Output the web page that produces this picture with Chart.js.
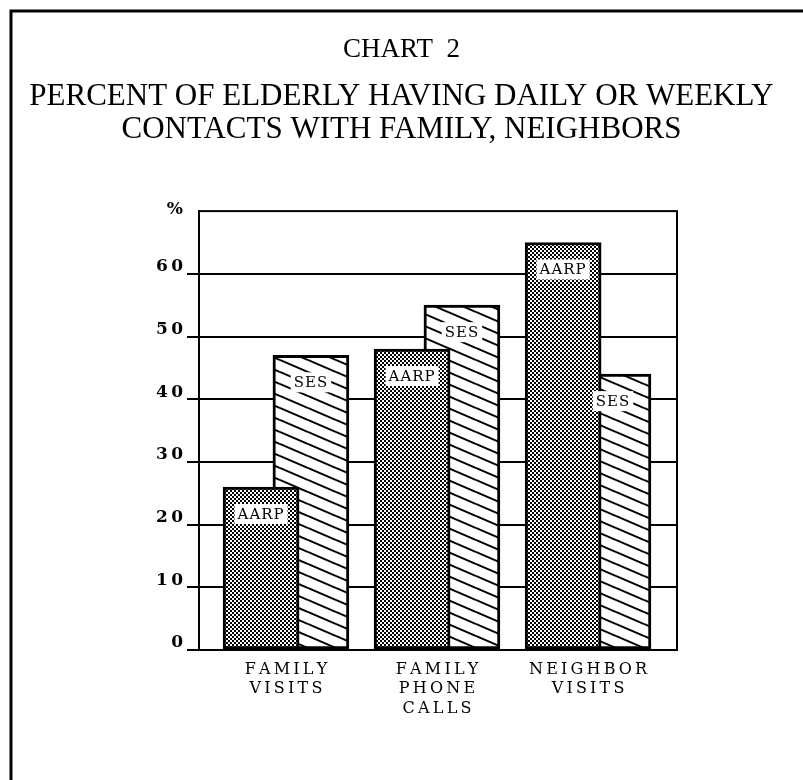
<!DOCTYPE html>
<html>
<head>
<meta charset="utf-8">
<title>Chart 2</title>
<script src="https://cdn.jsdelivr.net/npm/chart.js@4.4.0/dist/chart.umd.min.js"></script>
<style>
  html, body { margin: 0; padding: 0; background: #fff; }
  #chart { display: block; }
</style>
</head>
<body>
<canvas id="chart" width="803" height="780"></canvas>
<script>
// Chart data
const categories = [['FAMILY', 'VISITS'], ['FAMILY', 'PHONE', 'CALLS'], ['NEIGHBOR', 'VISITS']];
const seriesNames = ['AARP', 'SES'];
const aarpValues = [26, 48, 65];
const sesValues = [47, 55, 44];
const yTicks = [0, 10, 20, 30, 40, 50, 60];
const yMax = 70;

// x range and how far each bar sits from its category centre (in category units)
const xMin = -0.576, xMax = 2.589;
const barShift = 0.165;

const serif = "'DejaVu Serif', serif";

// the original uses letter-spaced type
function spaced(s) {
    return s.split('').join('\u2009');
}

// Fill patterns
function dotPattern() {
    const c = document.createElement('canvas');
    c.width = 4; c.height = 4;
    const g = c.getContext('2d');
    g.fillStyle = '#fff';
    g.fillRect(0, 0, 4, 4);
    g.fillStyle = '#000';
    g.fillRect(0, 0, 2, 2);
    g.fillRect(2, 2, 2, 2);
    return g.createPattern(c, 'repeat');
}

function hatchPattern() {
    const w = 28, h = 12;
    const c = document.createElement('canvas');
    c.width = w; c.height = h;
    const g = c.getContext('2d');
    g.fillStyle = '#fff';
    g.fillRect(0, 0, w, h);
    g.strokeStyle = '#000';
    g.lineWidth = 2;
    for (let k = -1; k <= 1; k++) {
        g.beginPath();
        g.moveTo(0, k * h);
        g.lineTo(w, k * h + h);
        g.stroke();
    }
    return g.createPattern(c, 'repeat');
}

// Page frame, plot box, labels inside bars, % sign
const decorPlugin = {
    id: 'decor',
    beforeDraw(chart) {
        const ctx = chart.ctx;
        ctx.save();
        ctx.fillStyle = '#fff';
        ctx.fillRect(0, 0, chart.width, chart.height);
        ctx.strokeStyle = '#000';
        ctx.lineWidth = 3;
        ctx.beginPath();
        ctx.moveTo(11, chart.height);
        ctx.lineTo(11, 11);
        ctx.lineTo(chart.width, 11);
        ctx.stroke();
        ctx.restore();
    },
    afterDatasetsDraw(chart) {
        const ctx = chart.ctx;
        const area = chart.chartArea;
        ctx.save();
        ctx.strokeStyle = '#000';
        ctx.lineWidth = 2;
        ctx.strokeRect(area.left, area.top, area.right - area.left, area.bottom - area.top);

        ctx.font = '15px ' + serif;
        ctx.letterSpacing = '1px';
        ctx.textAlign = 'center';
        ctx.textBaseline = 'middle';
        chart.data.datasets.forEach((ds, di) => {
            chart.getDatasetMeta(di).data.forEach(bar => {
                const cy = bar.y + 27;
                const tw = ctx.measureText(ds.label).width;
                ctx.fillStyle = '#fff';
                ctx.fillRect(bar.x - tw / 2 - 3, cy - 10, tw + 6, 20);
                ctx.fillStyle = '#000';
                ctx.fillText(ds.label, bar.x, cy + 1);
            });
        });

        ctx.letterSpacing = '0px';
        ctx.font = 'bold 17px ' + serif;
        ctx.textAlign = 'right';
        ctx.fillText('%', area.left - 16, area.top - 2);
        ctx.restore();
    }
};

const chart = new Chart(document.getElementById('chart'), {
    type: 'bar',
    data: {
        datasets: [{
            label: seriesNames[0],
            data: aarpValues.map((v, i) => ({ x: i - barShift, y: v })),
            backgroundColor: dotPattern(),
            borderColor: '#000',
            borderWidth: 3,
            borderSkipped: false,
            grouped: false,
            barThickness: 76
        }, {
            label: seriesNames[1],
            data: sesValues.map((v, i) => ({ x: i + barShift, y: v })),
            backgroundColor: hatchPattern(),
            borderColor: '#000',
            borderWidth: 3,
            borderSkipped: false,
            grouped: false,
            barThickness: 76
        }]
    },
    options: {
        responsive: false,
        animation: false,
        devicePixelRatio: 1,
        layout: { padding: 0 },
        plugins: {
            legend: { display: false },
            tooltip: { enabled: false },
            title: {
                display: true,
                text: 'CHART  2',
                color: '#000',
                font: { family: "'Liberation Serif', serif", size: 27, weight: 'normal', lineHeight: 1.2 },
                padding: { top: 34, bottom: 14 }
            },
            subtitle: {
                display: true,
                text: ['PERCENT OF ELDERLY HAVING DAILY OR WEEKLY', 'CONTACTS WITH FAMILY, NEIGHBORS'],
                color: '#000',
                font: { family: "'Liberation Serif', serif", size: 31, weight: 'normal', lineHeight: 1.06 },
                padding: { top: 0, bottom: 65 }
            }
        },
        scales: {
            x: {
                type: 'linear',
                min: xMin,
                max: xMax,
                offset: false,
                grid: { display: false, drawTicks: false },
                border: { display: true, color: '#000', width: 2 },
                afterBuildTicks: scale => {
                    scale.ticks = categories.map((c, i) => ({ value: i }));
                },
                afterFit: scale => { scale.height = 130; },
                ticks: {
                    autoSkip: false,
                    maxRotation: 0,
                    padding: 10,
                    color: '#000',
                    font: { family: serif, size: 16, lineHeight: 1.22 },
                    callback: v => categories[v].map(spaced)
                }
            },
            y: {
                min: 0,
                max: yMax,
                afterBuildTicks: scale => {
                    scale.ticks = yTicks.map(v => ({ value: v }));
                },
                afterFit: scale => { scale.width = 199; },
                grid: { color: '#000', lineWidth: 2, tickLength: 12, tickColor: '#000' },
                border: { display: true, color: '#000', width: 2 },
                ticks: {
                    padding: 4,
                    labelOffset: -7,
                    color: '#000',
                    font: { family: serif, size: 17, weight: 'bold' },
                    callback: v => spaced(String(v))
                }
            },
            // empty right margin so the titles centre on the whole page
            yRight: {
                position: 'right',
                min: 0,
                max: yMax,
                grid: { display: false, drawTicks: false },
                border: { display: false },
                ticks: { display: false },
                afterFit: scale => { scale.width = 126; }
            }
        }
    },
    plugins: [decorPlugin]
});
</script>
</body>
</html>
